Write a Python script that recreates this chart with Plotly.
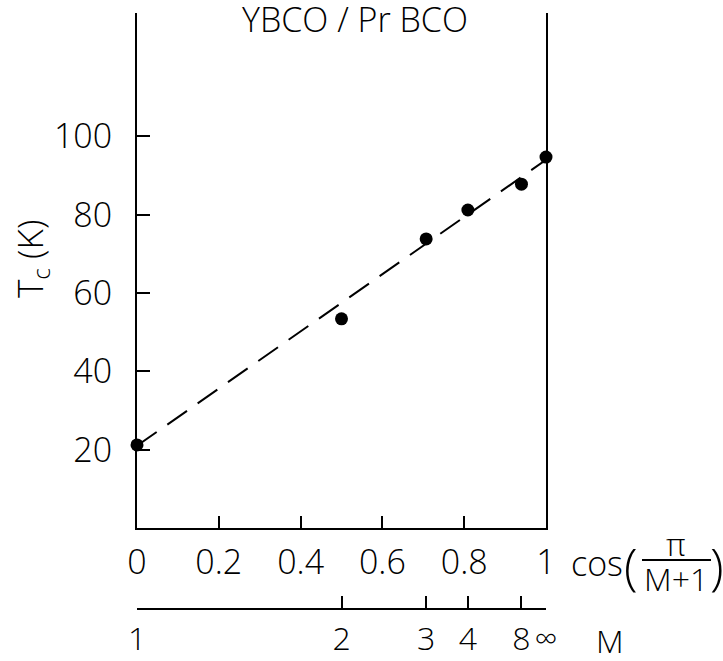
import plotly.graph_objects as go

# Measured critical temperatures vs cos(pi/(M+1)) for YBCO/PrBCO superlattices
x_cos = [0.0, 0.5, 0.707, 0.809, 0.94, 1.0]
tc_k = [21.2, 53.4, 73.8, 81.2, 87.8, 94.7]

# Linear fit drawn as dashed line
fit_x = [0.0, 1.0]
fit_y = [21.0, 94.0]

# Primary axis ticks
x_ticks = [0, 0.2, 0.4, 0.6, 0.8, 1.0]
x_ticktext = ["0", "0.2", "0.4", "0.6", "0.8", "1"]
y_ticks = [20, 40, 60, 80, 100]
y_ticktext = ["20", "40", "60", "80", "100"]

# Secondary scale: number of YBCO layers M
m_ticks = [0.0, 0.5, 0.707, 0.809, 0.94, 1.0]
m_ticktext = ["1", "2", "3", "4", "8", "\u221e"]

FONT = "Open Sans"
WEIGHT = 300
FS = 34
W, H = 723, 661
ML, MR, MT, MB = 137, 177, 13, 53
PW = W - ML - MR
PH = H - MT - MB
AX_BOTTOM = 528  # pixel row of main x axis


def px(xp):
    return (xp - ML) / PW


def py(yp):
    return (H - MB - yp) / PH


def tfont(size=FS):
    return dict(family=FONT, size=size, color="black", weight=WEIGHT)


fig = go.Figure()

fig.add_trace(go.Scatter(
    x=fit_x, y=fit_y, mode="lines",
    line=dict(color="black", width=2, dash="24px,13px"),
    hoverinfo="skip", showlegend=False,
))
fig.add_trace(go.Scatter(
    x=x_cos, y=tc_k, mode="markers",
    marker=dict(color="black", size=13),
    showlegend=False, cliponaxis=False,
))
# carrier trace for the M scale axis
fig.add_trace(go.Scatter(
    x=[0, 1], y=[None, None], xaxis="x2", yaxis="y2",
    mode="lines", showlegend=False, hoverinfo="skip",
))

fig.update_layout(
    width=W, height=H,
    margin=dict(l=ML, r=MR, t=MT, b=MB, autoexpand=False),
    paper_bgcolor="white", plot_bgcolor="white",
    font=tfont(),
    showlegend=False,
    xaxis=dict(
        range=[0, 1], domain=[0, 1], anchor="y",
        showline=True, linewidth=2, linecolor="black",
        ticks="inside", ticklen=12, tickwidth=2, tickcolor="black",
        tickvals=x_ticks, ticktext=x_ticktext, tickangle=0,
        tickfont=tfont(),
        showgrid=False, zeroline=False, ticklabelstandoff=3,
    ),
    yaxis=dict(
        range=[0, 131.5], domain=[(H - MB - AX_BOTTOM) / PH, 1],
        showline=True, mirror=True, linewidth=2, linecolor="black",
        ticks="inside", ticklen=13, tickwidth=2, tickcolor="black",
        tickvals=y_ticks, ticktext=y_ticktext,
        tickfont=tfont(),
        showgrid=False, zeroline=False, ticklabelstandoff=16,
    ),
    xaxis2=dict(
        range=[0, 1], domain=[0, 1], anchor="y2", side="bottom",
        showline=True, linewidth=2, linecolor="black",
        ticks="inside", ticklen=12, tickwidth=2, tickcolor="black",
        tickvals=m_ticks, ticktext=m_ticktext, tickangle=0,
        tickfont=tfont(32),
        showgrid=False, zeroline=False, ticklabelstandoff=2,
    ),
    yaxis2=dict(
        domain=[0, 0.03], anchor="x2", range=[0, 1],
        visible=False, showgrid=False, zeroline=False,
    ),
)

ann = []


def add_text(text, xp, yp, size=FS, angle=0):
    ann.append(dict(
        text=text, x=px(xp), y=py(yp), xref="paper", yref="paper",
        xanchor="center", yanchor="middle", showarrow=False,
        textangle=angle, font=tfont(size),
    ))


add_text("YBCO / Pr BCO", 355, 19, size=34)
add_text("T<sub>c</sub> (K)", 31, 259, size=35, angle=-90)
add_text("M", 610, 640, size=32)
add_text("cos", 597, 563)
add_text("(", 631, 566, size=50)
add_text("\u03c0", 676, 543, size=32)
add_text("M+1", 676, 578, size=32)
add_text(")", 717, 566, size=50)
fig.update_layout(annotations=ann)

# fraction bar of the cos() argument
fig.add_shape(
    type="line", xref="paper", yref="paper",
    x0=px(642), x1=px(711), y0=py(560), y1=py(560),
    line=dict(color="black", width=2),
)

fig.write_html("out.html")
